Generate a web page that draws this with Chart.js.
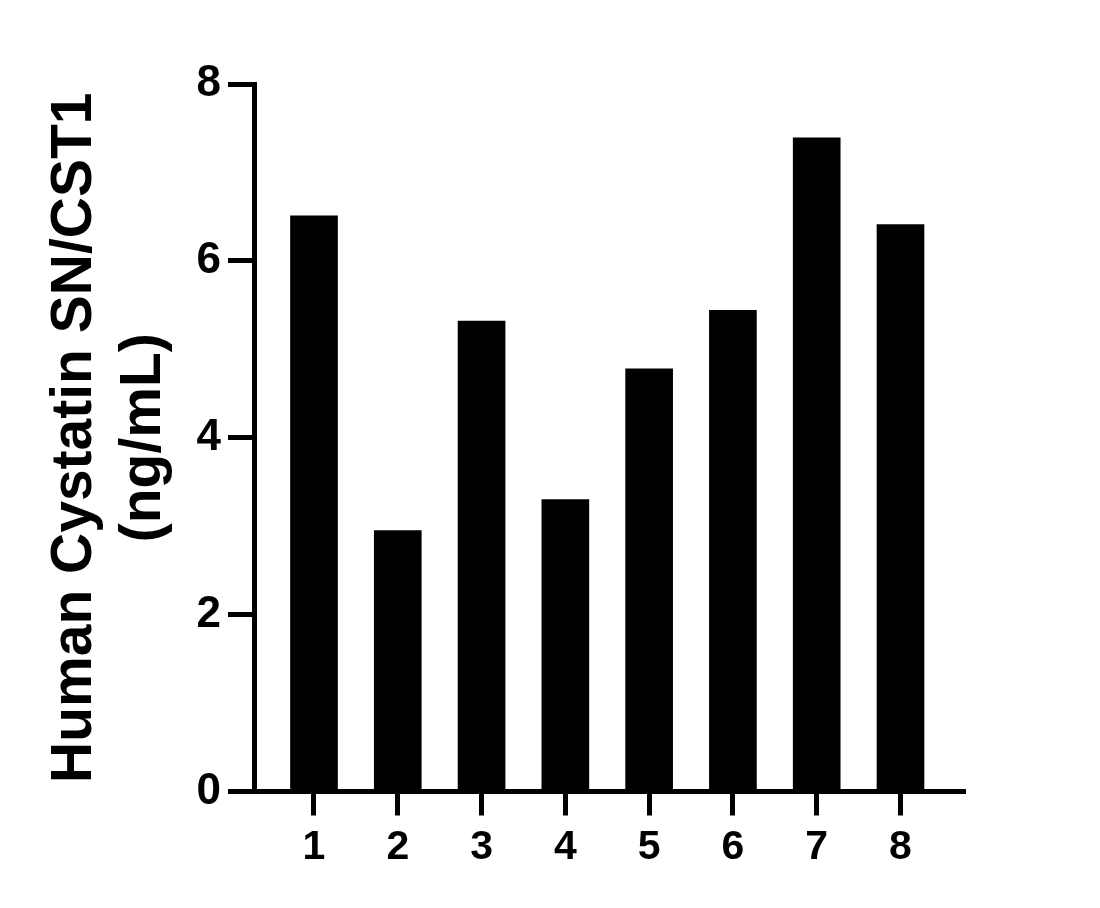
<!DOCTYPE html>
<html>
<head>
<meta charset="utf-8">
<script src="https://cdn.jsdelivr.net/npm/chart.js@4"></script>
<style>
  html, body { margin: 0; padding: 0; background: #ffffff; }
  #wrap { width: 1100px; height: 908px; }
</style>
</head>
<body>
<div id="wrap"><canvas id="c" width="1100" height="908"></canvas></div>
<script>
const categories = ['1', '2', '3', '4', '5', '6', '7', '8'];
const values = [6.51, 2.95, 5.32, 3.30, 4.78, 5.44, 7.39, 6.41];
const yTicks = [0, 2, 4, 6, 8];
const yTitle = ['Human Cystatin SN/CST1', '(ng/mL)'];

const FONT = "'Liberation Sans', Arial, Helvetica, sans-serif";

new Chart(document.getElementById('c'), {
  type: 'bar',
  data: {
    datasets: [{
      data: categories.map((c, i) => ({ x: i + 1, y: values[i] })),
      backgroundColor: '#000000',
      borderWidth: 0,
      barThickness: 47
    }]
  },
  options: {
    responsive: false,
    animation: false,
    devicePixelRatio: 1,
    layout: { padding: { left: 41, right: 135, top: 84, bottom: 36.5 } },
    plugins: { legend: { display: false }, tooltip: { enabled: false } },
    scales: {
      x: {
        type: 'linear',
        offset: false,
        min: 0.2839,
        max: 8.770,
        afterBuildTicks: (s) => { s.ticks = categories.map((c, i) => ({ value: i + 1 })); },
        afterFit: (s) => { s.height = 80; },
        border: { display: true, color: '#000000', width: 5 },
        grid: { display: true, offset: false, drawOnChartArea: false, drawTicks: true, tickLength: 24, tickWidth: 5, tickColor: '#000000' },
        ticks: {
          autoSkip: false,
          maxRotation: 0,
          padding: 8,
          color: '#000000',
          font: { family: FONT, size: 41, weight: 'bold' },
          callback: (v) => categories[v - 1]
        }
      },
      y: {
        min: 0,
        max: 8,
        afterBuildTicks: (s) => { s.ticks = yTicks.map(v => ({ value: v })); },
        afterFit: (s) => { s.width = 213; },
        border: { display: true, color: '#000000', width: 5 },
        grid: { display: true, drawOnChartArea: false, drawTicks: true, tickLength: 26, tickWidth: 5, tickColor: '#000000' },
        ticks: {
          padding: 7,
          color: '#000000',
          font: { family: FONT, size: 44, weight: 'bold' },
          callback: (v) => String(v)
        },
        title: {
          display: true,
          text: yTitle,
          color: '#000000',
          padding: { top: 0, bottom: 0 },
          font: { family: FONT, size: 57, weight: 'bold', lineHeight: 1.21 }
        }
      }
    }
  }
});
</script>
</body>
</html>
